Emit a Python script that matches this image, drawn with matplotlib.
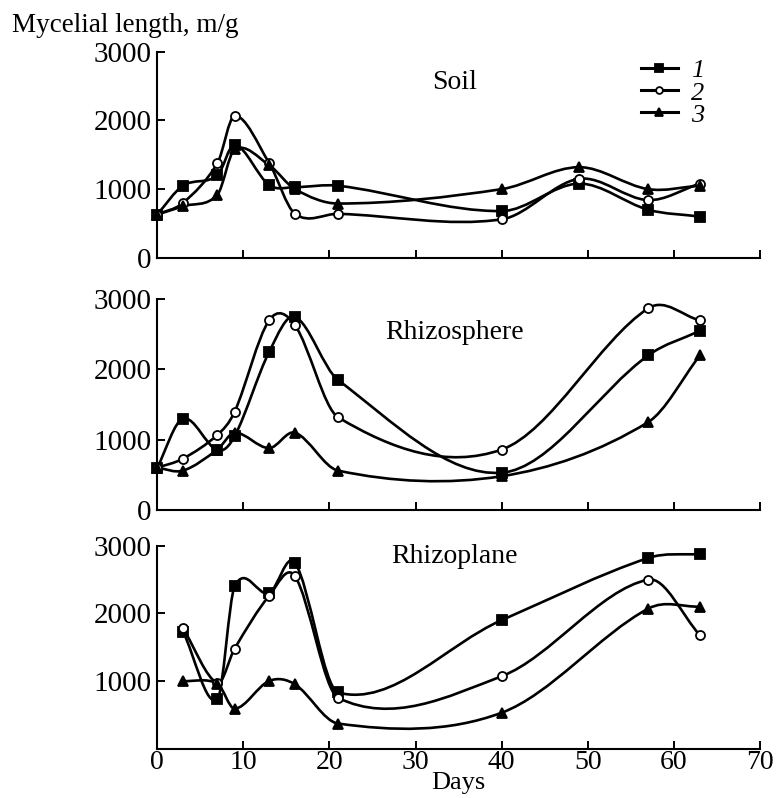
import matplotlib
matplotlib.use('Agg')
import matplotlib.pyplot as plt
from matplotlib.path import Path
from matplotlib.patches import PathPatch

plt.rcParams['font.family'] = ['Liberation Serif', 'DejaVu Serif']

# Soil
soil_days = [0, 3, 7, 9, 13, 16, 21, 40, 49, 57, 63]
soil_1 = [630, 1050, 1200, 1650, 1060, 1030, 1050, 680, 1080, 700, 600]
soil_2 = [630, 800, 1380, 2070, 1380, 640, 640, 560, 1150, 840, 1080]
soil_3 = [630, 750, 920, 1580, 1350, 1000, 790, 1000, 1320, 1000, 1050]

# Rhizosphere
rsph_days = [0, 3, 7, 9, 13, 16, 21, 40, 57, 63]
rsph_1 = [600, 1300, 850, 1050, 2250, 2750, 1850, 530, 2200, 2550]
rsph_2 = [600, 730, 1070, 1400, 2700, 2630, 1320, 860, 2870, 2700]
rsph_3 = [600, 560, 860, 1100, 880, 1100, 560, 480, 1250, 2200]

# Rhizoplane
rpl_days = [3, 7, 9, 13, 16, 21, 40, 57, 63]
rpl_1 = [1730, 730, 2400, 2300, 2750, 830, 1900, 2820, 2880]
rpl_2 = [1780, 970, 1480, 2260, 2550, 750, 1070, 2500, 1680]
rpl_3 = [1000, 960, 590, 1000, 950, 370, 530, 2070, 2100]

panels = [
    ('Soil', soil_days, [soil_1, soil_2, soil_3], 2560),
    ('Rhizosphere', rsph_days, [rsph_1, rsph_2, rsph_3], 2520),
    ('Rhizoplane', rpl_days, [rpl_1, rpl_2, rpl_3], 2840),
]
labels = ['1', '2', '3']
markers = [dict(marker='s', markersize=7, markerfacecolor='black'),
           dict(marker='o', markersize=6.5, markerfacecolor='white'),
           dict(marker='^', markersize=7.5, markerfacecolor='black')]
boxes = [[0.202, 0.677, 0.775, 0.258],
         [0.202, 0.361, 0.775, 0.264],
         [0.202, 0.062, 0.775, 0.254]]


# smooth curve through the points (cubic Hermite as bezier segments)
def smooth_path(x, y):
    n = len(x)
    m = []
    for i in range(n):
        if i == 0:
            m.append((y[1] - y[0]) / (x[1] - x[0]))
        elif i == n - 1:
            m.append((y[-1] - y[-2]) / (x[-1] - x[-2]))
        else:
            m.append((y[i + 1] - y[i - 1]) / (x[i + 1] - x[i - 1]))
    verts = [(x[0], y[0])]
    codes = [Path.MOVETO]
    for i in range(n - 1):
        h = x[i + 1] - x[i]
        verts += [(x[i] + h / 3, y[i] + m[i] * h / 3),
                  (x[i + 1] - h / 3, y[i + 1] - m[i + 1] * h / 3),
                  (x[i + 1], y[i + 1])]
        codes += [Path.CURVE4] * 3
    return Path(verts, codes)


fig = plt.figure(figsize=(7.78, 7.98), dpi=100)

for k, (title, days, series, ty) in enumerate(panels):
    ax = fig.add_axes(boxes[k])
    for j, vals in enumerate(series):
        ax.add_patch(PathPatch(smooth_path(days, vals), fill=False,
                               edgecolor='black', lw=1.9, clip_on=False))
        ax.plot(days, vals, linestyle='none', markeredgecolor='black',
                markeredgewidth=1.3, clip_on=False, zorder=3,
                label=labels[j], **markers[j])
    ax.set_xlim(0, 70)
    ax.set_ylim(0, 3000)
    ax.spines['top'].set_visible(False)
    ax.spines['right'].set_visible(False)
    for s in ['left', 'bottom']:
        ax.spines[s].set_linewidth(1.5)
    ax.set_xticks(range(0, 80, 10))
    ax.tick_params(direction='in', length=6, width=1.4)
    ax.tick_params(axis='y', labelsize=21, pad=4)
    if k == 2:
        ax.set_yticks([1000, 2000, 3000])
        ax.tick_params(axis='x', labelsize=20, pad=1)
    else:
        ax.set_yticks([0, 1000, 2000, 3000])
        ax.set_xticklabels([])
    ax.text(34.5, ty, title, fontsize=20, ha='center', va='center')
    if k == 0:
        ax.legend(loc='upper left', bbox_to_anchor=(0.78, 1.03), frameon=False,
                  prop={'style': 'italic', 'size': 19}, handlelength=1.4,
                  handletextpad=0.5, labelspacing=-0.05, borderpad=0,
                  markerscale=0.75)
        for h in ax.get_legend().legend_handles:
            h.set_linestyle('-')
            h.set_linewidth(2.2)
            h.set_color('black')

fig.text(0.015, 0.968, 'Mycelial length, m/g', fontsize=19.5, ha='left', va='center')
fig.text(0.589, 0.019, 'Days', fontsize=19, ha='center', va='center')

fig.savefig('out.png', dpi=100)
